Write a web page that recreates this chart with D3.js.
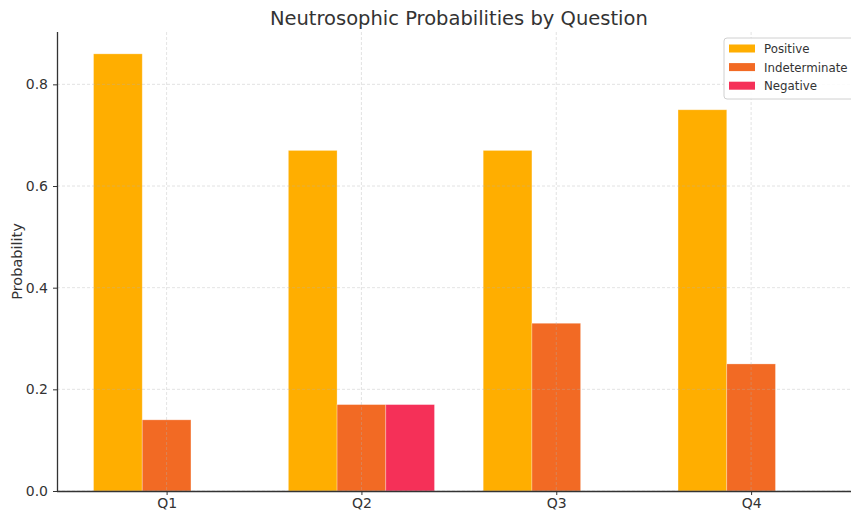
<!DOCTYPE html>
<html lang="en">
<head>
    <meta charset="UTF-8">
    <title>Neutrosophic Probabilities by Question</title>
    <script src="https://d3js.org/d3.v7.min.js"></script>
    <style>
        body { margin: 0; background: #fff; }
        svg { display: block; font-family: "DejaVu Sans", sans-serif; }
    </style>
</head>
<body>
    <div id="chart"></div>
    <script>
        // Data
        const questions = ["Q1", "Q2", "Q3", "Q4"];
        const seriesNames = ["Positive", "Indeterminate", "Negative"];
        const positive = [0.86, 0.67, 0.67, 0.75];
        const indeterminate = [0.14, 0.17, 0.33, 0.25];
        const negative = [0, 0.17, 0, 0];
        const yTicks = [0.0, 0.2, 0.4, 0.6, 0.8];
        const colors = ["#FFAE00", "#F26A24", "#F53058"];

        const width = 851, height = 510;
        const margin = { top: 32, right: 0, bottom: 19, left: 57 };
        const plotBottom = height - margin.bottom;

        const svg = d3.select("#chart")
            .append("svg")
            .attr("width", width)
            .attr("height", height);

        // Numeric x scale like matplotlib: index positions, bar width 0.25
        const barW = 0.25;
        const x = d3.scaleLinear()
            .domain([-0.5625, 3.5625])
            .range([margin.left, 860.7]);

        const y = d3.scaleLinear()
            .domain([0, 0.903])
            .range([plotBottom, margin.top]);

        const series = [positive, indeterminate, negative];
        const offsets = [-barW, 0, barW];

        // Bars
        series.forEach((vals, si) => {
            svg.append("g")
                .selectAll("rect")
                .data(vals)
                .join("rect")
                .attr("x", (d, i) => x(i + offsets[si] - barW / 2))
                .attr("width", x(barW) - x(0))
                .attr("y", d => y(d))
                .attr("height", d => y(0) - y(d))
                .attr("fill", colors[si])
                .attr("stroke", "#fff")
                .attr("stroke-opacity", 0.35)
                .attr("stroke-width", 0.8);
        });

        // Grid (drawn over bars)
        const grid = svg.append("g")
            .attr("stroke", "#b0b0b0")
            .attr("stroke-opacity", 0.6)
            .attr("stroke-width", 0.6)
            .attr("stroke-dasharray", "3,2");
        grid.selectAll(".gy")
            .data(yTicks)
            .join("line")
            .attr("x1", margin.left).attr("x2", width)
            .attr("y1", d => y(d)).attr("y2", d => y(d));
        grid.selectAll(".gx")
            .data(questions)
            .join("line")
            .attr("x1", (d, i) => x(i)).attr("x2", (d, i) => x(i))
            .attr("y1", margin.top).attr("y2", plotBottom);

        // Axes
        const yAxis = svg.append("g")
            .attr("transform", `translate(${margin.left},0)`)
            .call(d3.axisLeft(y).tickValues(yTicks).tickFormat(d3.format(".1f")).tickSize(4).tickPadding(5));
        const xAxis = svg.append("g")
            .attr("transform", `translate(0,${plotBottom})`)
            .call(d3.axisBottom(x).tickValues(d3.range(questions.length)).tickFormat(i => questions[i]).tickSize(4).tickPadding(3));

        [xAxis, yAxis].forEach(g => {
            g.select(".domain").attr("stroke", "#333").attr("stroke-width", 1.3);
            g.selectAll(".tick line").attr("stroke", "#333").attr("stroke-width", 1);
            g.selectAll(".tick text")
                .attr("fill", "#333")
                .style("font-size", "14px")
                .style("font-family", "DejaVu Sans, sans-serif");
        });
        xAxis.select(".domain").attr("d", `M${margin.left},0.5H${width}`);
        yAxis.select(".domain").attr("d", `M0.5,${plotBottom}V${margin.top}`);

        // Title
        svg.append("text")
            .attr("x", (margin.left + 860.7) / 2)
            .attr("y", 25)
            .attr("text-anchor", "middle")
            .attr("fill", "#333")
            .style("font-size", "19.5px")
            .text("Neutrosophic Probabilities by Question");

        // Y label
        svg.append("text")
            .attr("transform", "rotate(-90)")
            .attr("x", -(margin.top + plotBottom) / 2)
            .attr("y", 22)
            .attr("text-anchor", "middle")
            .attr("fill", "#333")
            .style("font-size", "14.5px")
            .text("Probability");

        // Legend
        const legend = svg.append("g").attr("transform", "translate(724,38)");
        legend.append("rect")
            .attr("width", 140).attr("height", 61)
            .attr("rx", 3)
            .attr("fill", "#fff").attr("fill-opacity", 0.85)
            .attr("stroke", "#d0d0d0");
        seriesNames.forEach((name, i) => {
            const row = legend.append("g").attr("transform", `translate(5,${6.5 + i * 18.6})`);
            row.append("rect")
                .attr("width", 26).attr("height", 8)
                .attr("fill", colors[i]);
            row.append("text")
                .attr("x", 35).attr("y", 8.5)
                .attr("fill", "#333")
                .style("font-size", "11.8px")
                .text(name);
        });
    </script>
</body>
</html>
